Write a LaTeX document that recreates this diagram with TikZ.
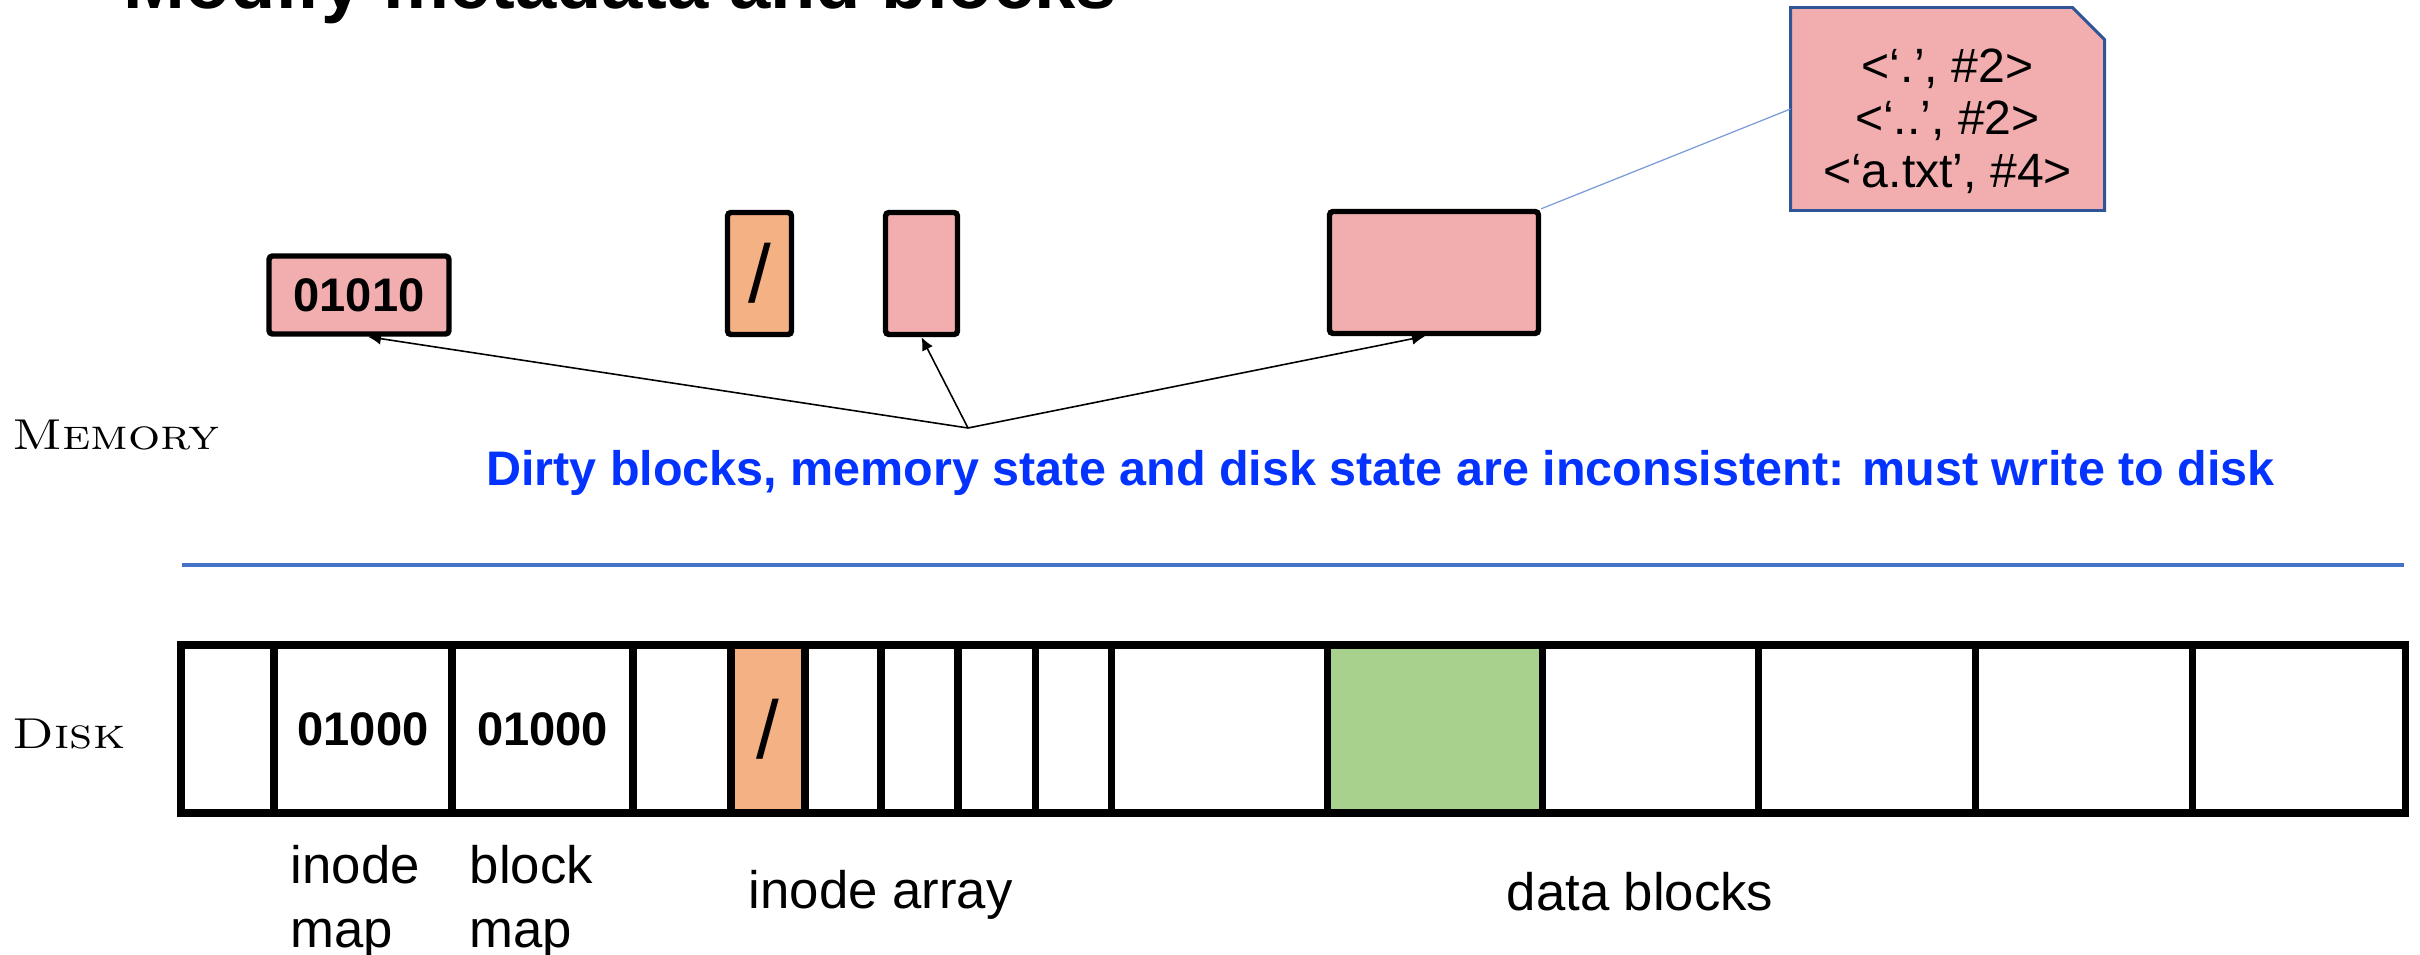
\documentclass[tikz,border=0pt]{standalone}
\usepackage{fontspec}
\usepackage{tikz}
\usetikzlibrary{arrows.meta,positioning}
\newfontfamily\arialf{Liberation Sans}
\definecolor{dirtypink}{HTML}{F2AEAE}
\definecolor{rootorange}{HTML}{F4B183}
\definecolor{cleangreen}{HTML}{A9D18E}
\definecolor{warnblue}{HTML}{0433FF}
\definecolor{sepblue}{HTML}{4472C4}
\definecolor{noteblue}{HTML}{2F5597}
\definecolor{calloutblue}{HTML}{7A9BDA}
\newcommand{\rootdir}{{\mdseries\fontsize{23.3}{24}\selectfont /}}
\newcommand{\widecaps}[1]{\scalebox{1.17}[1]{#1}}
\tikzset{
    %Define standard arrow tip
    >={Latex[length=1.3mm,width=1.2mm]},
    %Define style for memory blocks
    memblock/.style={
           rectangle,
           rounded corners=1pt,
           draw=black, line width=1.55pt,
           inner sep=0pt,
           minimum height=12.2mm,
           font=\arialf\bfseries\fontsize{13.4}{16}\selectfont,
           text centered,
           fill=dirtypink},
    %Define style for disk blocks
    diskcell/.style={
           rectangle,
           draw=black, line width=2pt,
           inner sep=0pt,
           minimum height=16.8mm,
           font=\arialf\bfseries\fontsize{13.4}{16}\selectfont,
           text centered},
    notearea/.style={
           rectangle,
           inner sep=0pt, outer sep=0pt,
           minimum width=31.4mm,
           minimum height=20.3mm},
    notetext/.style={
           inner sep=0pt,
           align=center,
           font=\arialf\fontsize{13.7}{15}\selectfont},
    noteline/.style={
           draw=noteblue, line width=0.85pt,
           fill=dirtypink},
    region/.style={
           font=\fontsize{12.3}{14}\selectfont\scshape,
           anchor=base west,
           inner sep=0pt},
    caption/.style={
           font=\arialf\fontsize{15}{18.2}\selectfont,
           inner sep=0pt,
           align=left},
    % Define arrow style
    pil/.style={
           ->,
           line width=0.45pt},
    callout/.style={draw=calloutblue, line width=0.35pt}
}
\begin{document}
\begin{tikzpicture}[x=0.1mm,y=-0.1mm]
\useasboundingbox (0,0) rectangle (2420,955);
 %title
\node[anchor=base west, inner sep=0pt, font=\arialf\bfseries\fontsize{21.1}{24}\selectfont] (title) at (123,9) {Modify metadata and blocks};
 %memory
\node[region] (memlbl) at (12,449) {\widecaps{Memory}};
\node[memblock, minimum width=18mm, minimum height=7.8mm] (memmap) at (359,295) {01010};
\node[memblock, fill=rootorange, minimum width=6.4mm] (memroot) at (759.5,273.5) {\rootdir};
\node[memblock, minimum width=7.2mm] (meminode) at (921.5,273.5) {};
\node[memblock, minimum width=20.9mm] (memdata) at (1434,272.5) {};
\node[notearea] (dirent) at (1947.5,109) {};
\draw[noteline] (dirent.south west) -- (dirent.north west) -- ([xshift=-3.2mm]dirent.north east)
    -- ([yshift=-3.2mm]dirent.north east) -- (dirent.south east) -- cycle;
\node[notetext] (direntxt) at ([yshift=-1.2mm]dirent.center) {<‘.’, \#2>\\<‘..’, \#2>\\<‘a.txt’, \#4>};
\draw[callout] (memdata.north east) -- (dirent.west);
 %dirty blocks
\coordinate (dirty) at (968,428);
\node[anchor=base, inner sep=0pt, text=warnblue, font=\arialf\bfseries\fontsize{13.8}{16}\selectfont] (warn) at (1380.5,485) {Dirty blocks, memory state and disk state are inconsistent: must write to disk};
\draw[pil] (dirty) -- ([xshift=0.9mm]memmap.south);
\draw[pil] (dirty) -- (meminode.south);
\draw[pil] (dirty) -- ([xshift=-0.9mm]memdata.south);
 %separator
\coordinate (sepl) at (182,565);
\coordinate (sepr) at (2404,565);
\draw[sepblue, line width=1pt] (sepl) -- (sepr);
 %disk
\node[region] (disklbl) at (12,748) {\widecaps{Disk}};
\foreach \lft/\rgt/\col/\txt [count=\i] in {181/274/white/{}, 274/452/white/01000, 452/633/white/01000, 633/731/white/{}, 731/805/rootorange/\rootdir, 805/881/white/{}, 881/958/white/{}, 958/1035/white/{}, 1035/1111/white/{}, 1111/1327/white/{}, 1327/1542/cleangreen/{}, 1542/1758/white/{}, 1758/1975/white/{}, 1975/2192/white/{}, 2192/2405/white/{}}
    \node[diskcell, fill=\col, minimum width={(\rgt-\lft)*0.1mm}] (d\i) at ({(\lft+\rgt)/2},729) {\txt};
\node[caption, anchor=north west] (imaplbl) at (290,845) {inode\\map};
\node[caption, anchor=north west] (bmaplbl) at (469,845) {block\\map};
\node[caption, anchor=base west] (iarrlbl) at (748,908) {inode array};
\node[caption, anchor=base west] (datalbl) at (1506,910) {data blocks};
\end{tikzpicture}
\end{document}
